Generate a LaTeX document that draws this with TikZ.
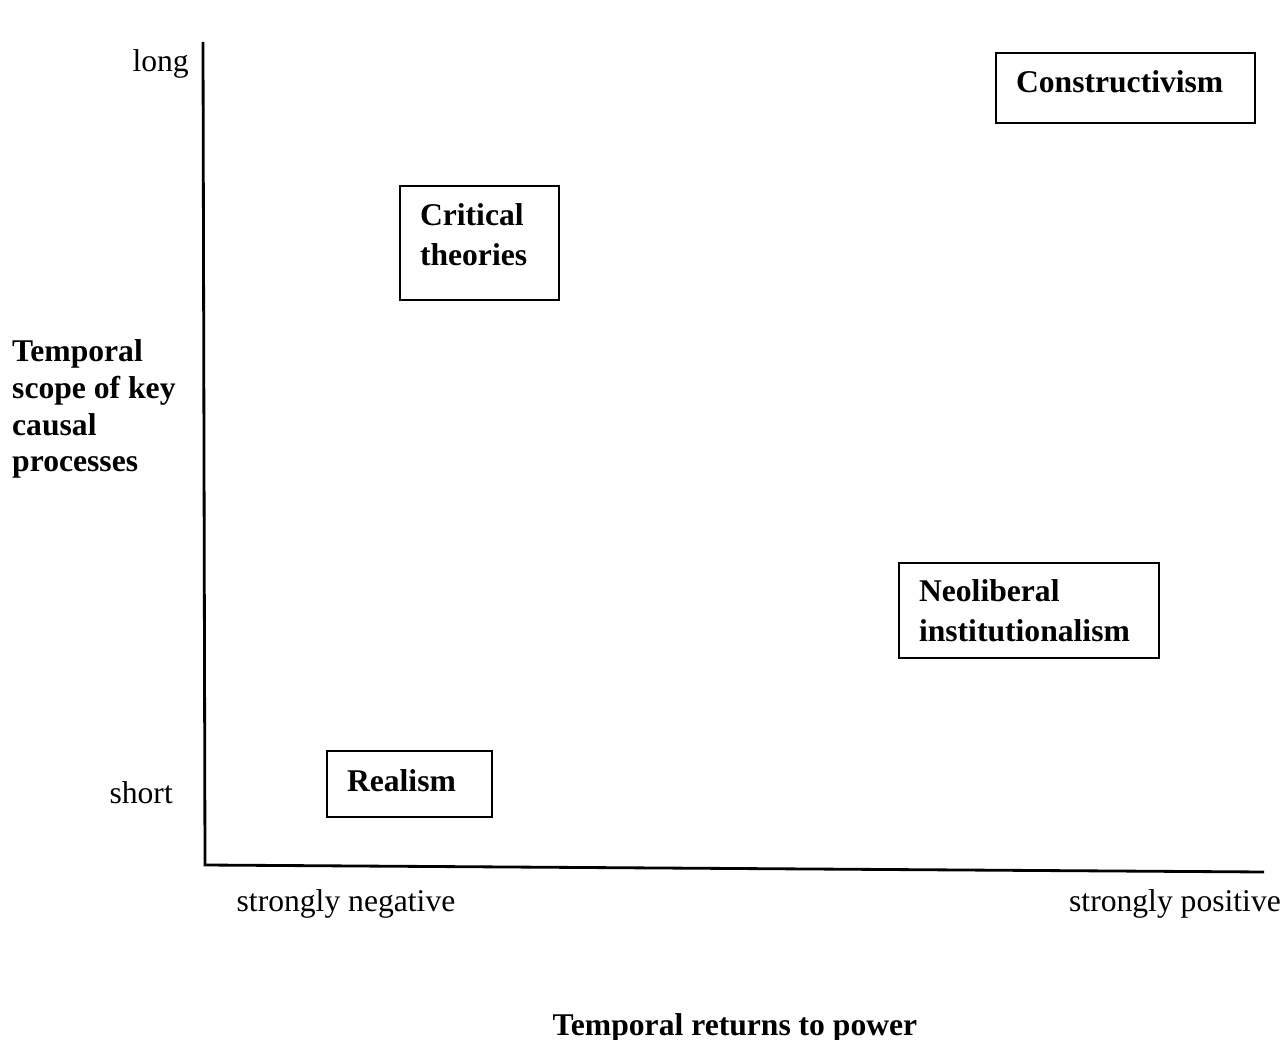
\documentclass[tikz,border=0pt]{standalone}
\usepackage{fontspec}
\setmainfont{Liberation Serif}
\usepackage{tikz}
\usetikzlibrary{positioning}

\begin{document}
\begin{tikzpicture}[x=0.02cm,y=-0.02cm,
    axis/.style={line width=1.6pt},
    theory/.style={draw,line width=1.1pt,inner xsep=0.4cm,inner ysep=0pt,
      anchor=north,align=left,font=\fontsize{18}{22.7}\selectfont\bfseries},
    tick/.style={font=\fontsize{18}{21}\selectfont}]
      \useasboundingbox (0,0) rectangle (1285,1040);

      % axes
      \coordinate (ytop) at (203,42);
      \coordinate (origin) at (205,865);
      \coordinate (xend) at (1264,872);
      \draw[axis] (ytop) -- (origin) -- (xend);

      % axis labels
      \node[tick,anchor=east] (long) at (195,64) {long};
      \node[tick,anchor=east] (short) at (179,793) {short};
      \node[tick,anchor=west,align=left,font=\fontsize{18}{21}\selectfont\bfseries]
        (ylabel) at (6,409) {Temporal\\scope of key\\causal\\processes};
      \node[tick] (neg) at (346,904) {strongly negative};
      \node[tick] (pos) at (1175,904) {strongly positive};
      \node[tick,font=\fontsize{18}{21}\selectfont\bfseries]
        (xlabel) at (735,1028) {Temporal returns to power};

      % theories
      \node[theory,text width=4.38cm,text height=22.7pt,text depth=17pt]
        (constr) at (1125.5,52) {Constructivism};
      \node[theory,text width=2.38cm,text height=22.7pt,text depth=42pt]
        (critical) at (479.5,185) {Critical\\theories};
      \node[theory,text width=4.4cm,text height=22.1pt,text depth=31.8pt]
        (neolib) at (1029,562) {Neoliberal\\institutionalism};
      \node[theory,text width=2.5cm,text height=23.2pt,text depth=14.2pt]
        (realism) at (409.5,750) {Realism};
\end{tikzpicture}
\end{document}
